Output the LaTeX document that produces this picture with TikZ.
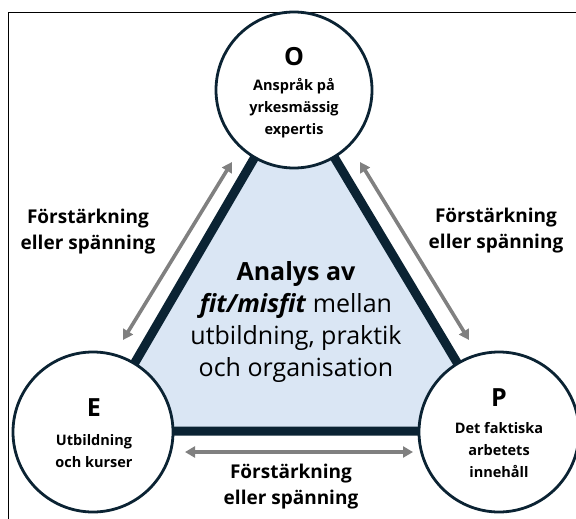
\documentclass[tikz,border=0pt]{standalone}
\usepackage{fontspec}
\setmainfont{Open Sans}
\usetikzlibrary{arrows.meta}
\definecolor{navy}{HTML}{0B2333}
\definecolor{triblue}{HTML}{DAE6F4}
\definecolor{arrgray}{HTML}{808080}
\tikzset{
  circ/.style={circle, draw=navy, line width=2.8pt, fill=white, minimum size=#1, inner sep=0pt},
  tri/.style={draw=navy, line width=9pt, fill=triblue, line join=round},
  garrow/.style={draw=arrgray, line width=3.6pt, {Triangle[length=10pt,width=11pt]}-{Triangle[length=10pt,width=11pt]}},
  biglbl/.style={font=\fontsize{25}{25}\selectfont\bfseries, inner sep=0pt},
  ctext/.style={font=\fontsize{14.5}{22}\selectfont\bfseries, align=center, inner sep=0pt},
  relt/.style={font=\fontsize{19}{26}\selectfont\bfseries, align=center, inner sep=0pt},
  mid/.style={font=\fontsize{25}{32}\selectfont, align=center, inner sep=0pt}
}
\begin{document}
\begin{tikzpicture}[x=1pt,y=-1pt]
\useasboundingbox (0,0) rectangle (576,519);
\begin{scope}
\clip (0,0) rectangle (576,519);
\draw[black, line width=1.6pt] (8.5,12.5) rectangle (640,640);
\end{scope}
\coordinate (o) at (294,90);
\coordinate (e) at (95,431);
\coordinate (p) at (498,431);
\draw[tri] (o) -- (e) -- (p) -- cycle;
\node[circ=156pt] (O) at (o) {};
\node[circ=160pt] (E) at (93,432) {};
\node[circ=160pt] (P) at (499,432) {};
% labels inside circles
\node[biglbl] (Ol) at (294,57) {O};
\node[ctext] (Ot) at (294,108) {Anspråk på\\yrkesmässig\\expertis};
\node[biglbl] (El) at (94,408) {E};
\node[ctext] (Et) at (94,451) {Utbildning\\och kurser};
\node[biglbl] (Pl) at (499,398) {P};
\node[ctext] (Pt) at (499,450) {Det faktiska\\arbetets\\innehåll};
% centre text
\node[mid] (M) at (296,322) {\textbf{Analys av}\\\textbf{\textit{fit/misfit}} mellan\\utbildning, praktik\\och organisation};
% arrows
\coordinate (l1) at (232,162);
\coordinate (l2) at (123,340);
\coordinate (r1) at (360,162);
\coordinate (r2) at (469,340);
\coordinate (b1) at (185,452);
\coordinate (b2) at (413,452);
\draw[garrow] (l1) -- (l2);
\draw[garrow] (r1) -- (r2);
\draw[garrow] (b1) -- (b2);
% relation labels
\node[relt] (Lt) at (88,232) {Förstärkning\\eller spänning};
\node[relt] (Rt) at (496,231) {Förstärkning\\eller spänning};
\node[relt] (Bt) at (291,487) {Förstärkning\\eller spänning};
\end{tikzpicture}
\end{document}
